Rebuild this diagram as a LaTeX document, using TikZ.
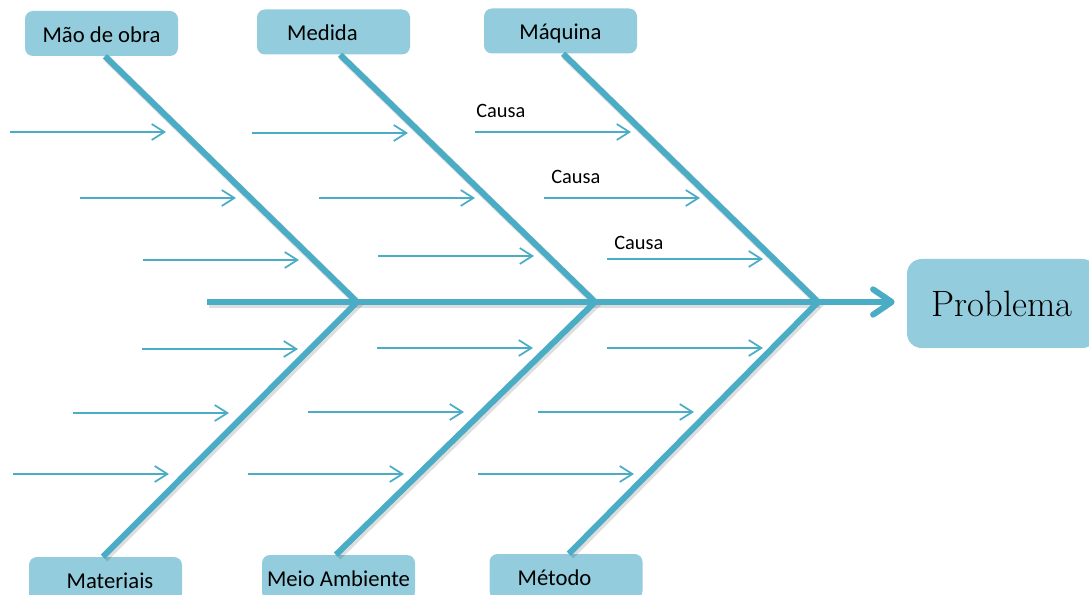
\documentclass[tikz,border=0pt]{standalone}
\usepackage{fontspec}
\newfontfamily\labelfont{Carlito}
\usetikzlibrary{arrows.meta}
\definecolor{fishline}{HTML}{4BACC6}
\definecolor{boxfill}{HTML}{93CDDD}
\begin{document}
\begin{tikzpicture}[x=0.75pt,y=-0.75pt,
  catbox/.style={fill=boxfill, rounded corners=6pt, minimum width=114.75pt,
    minimum height=33.75pt, inner sep=0pt, text height=15.5pt, text depth=2pt,
    font=\labelfont\fontsize{17}{20}\selectfont},
  probbox/.style={fill=boxfill, rounded corners=11pt, minimum width=142.5pt,
    minimum height=66.75pt, inner sep=0pt, font=\fontsize{27.5}{31}\selectfont},
  bone/.style={draw=fishline, line width=4.5pt},
  boneshadow/.style={draw=black, opacity=0.13, line width=5.5pt,
    transform canvas={shift={(1.3pt,-1.6pt)}}},
  cause/.style={draw=fishline, line width=1.3pt,
    -{Straight Barb[length=9.5pt,width=12pt]}},
  causelabel/.style={anchor=west, inner sep=0pt,
    font=\labelfont\fontsize{15.3}{18}\selectfont}]
\useasboundingbox (0,0) rectangle (1089,595);

% category boxes and the effect box
\node[catbox] (mo) at (101.5,33.5) {Mão de obra};
\node[catbox] (me) at (333.5,32) {\hspace*{-16.5pt}Medida};
\node[catbox] (mq) at (560.5,31) {Máquina};
\node[catbox] (ma) at (105.5,579.5) {\hspace*{6.75pt}Materiais};
\node[catbox] (am) at (338.5,577.5) {Meio Ambiente};
\node[catbox] (mt) at (566,576.5) {\hspace*{-17.25pt}Método};
\node[probbox] (pb) at (1002,303.5) {Problema};

% spine points
\coordinate (tail) at (207,302);
\coordinate (j1) at (357,302);
\coordinate (j2) at (595,302);
\coordinate (j3) at (818,302);

% soft shadows under the main bones
\begin{scope}
  \draw[boneshadow] ([xshift=2.6pt]mo.south) -- (j1) -- ([xshift=-1.9pt]ma.north);
  \draw[boneshadow] ([xshift=4.9pt]me.south) -- (j2) -- ([xshift=-1.9pt]am.north);
  \draw[boneshadow] ([xshift=1.9pt]mq.south) -- (j3) -- ([xshift=2.2pt]mt.north);
  \draw[boneshadow] (tail) -- (j3);
\end{scope}

% main bones
\draw[bone] ([xshift=2.6pt]mo.south) -- (j1);
\draw[bone] ([xshift=4.9pt]me.south) -- (j2);
\draw[bone] ([xshift=1.9pt]mq.south) -- (j3);
\draw[bone] (j1) -- ([xshift=-1.9pt]ma.north);
\draw[bone] (j2) -- ([xshift=-1.9pt]am.north);
\draw[bone] (j3) -- ([xshift=2.2pt]mt.north);
\draw[bone, shorten >=9pt,
  -{Straight Barb[length=14pt,width=19pt,round]}] (tail) -- (tail -| pb.west);

% cause arrows
\foreach \sx/\sy [count=\i] in {
  10/132, 80/198, 143/260, 142/349, 73/413, 13/474,
  252/133, 319/198, 378/256, 377/348, 308/412, 248/474,
  475/132, 544/198, 607/259, 607/348, 538/412, 478/474} {
  \coordinate (c\i) at (\sx,\sy);
  \draw[cause] (c\i) -- ++(156,0);
}

% cause labels
\node[causelabel] (k1) at (476,111) {Causa};
\node[causelabel] (k2) at (551,177) {Causa};
\node[causelabel] (k3) at (614,243) {Causa};
\end{tikzpicture}
\end{document}
